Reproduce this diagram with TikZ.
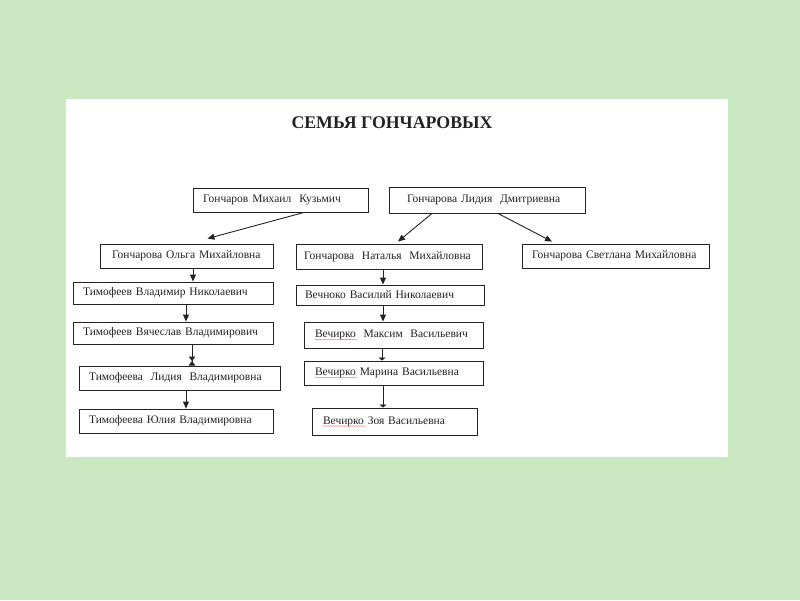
\documentclass[tikz,border=0pt]{standalone}
\usepackage{fontspec}
\setmainfont{Liberation Serif}
\usetikzlibrary{arrows.meta,decorations.pathmorphing}
\definecolor{bgc}{RGB}{202,232,194}
\definecolor{ink}{RGB}{35,35,35}
\tikzset{
  box/.style={draw=ink, line width=0.9pt, fill=white, text=ink, inner ysep=0pt,
    align=left, font=\fontsize{11.5}{12}\selectfont},
  arr/.style={draw=ink, line width=0.9pt, -{Triangle[length=7pt,width=6pt]}},
  flatarr/.style={draw=ink, line width=0.9pt, -{Triangle[length=3pt,width=7pt]}},
  hourarr/.style={draw=ink, line width=0.9pt, -{Triangle[length=4.5pt,width=6.5pt]Triangle[reversed,length=4.5pt,width=6.5pt]}},
  spell/.style={draw=red!55, line width=0.4pt, decorate,
    decoration={snake, amplitude=0.5pt, segment length=2.5pt}},
  titlestyle/.style={text=ink, font=\bfseries\fontsize{17.8}{20}\selectfont}
}
\begin{document}
\begin{tikzpicture}[x=1pt,y=-1pt]
\fill[bgc] (0,0) rectangle (800,600);
\fill[white] (66,99) rectangle (728,457);
\useasboundingbox (0,0) rectangle (800,600);

\node[titlestyle] (title) at (392,123) {СЕМЬЯ ГОНЧАРОВЫХ};

\node[box, minimum width=175pt, minimum height=24pt, inner xsep=10pt, text width=155pt] (m) at (280.5,200) {Гончаров\hspace{4pt}Михаил\hspace{8pt}Кузьмич};
\node[box, minimum width=196pt, minimum height=26pt, inner xsep=18pt, text width=160pt] (l) at (487,200) {Гончарова Лидия\ \ Дмитриевна};

\node[box, minimum width=173pt, minimum height=24pt, inner xsep=10pt, text width=153pt] (olga) at (186.5,256) {\hspace{2pt}Гончарова Ольга Михайловна};
\node[box, minimum width=186pt, minimum height=25pt, inner xsep=8pt, text width=170pt] (nat) at (389,256.5) {Гончарова\ \ Наталья\ \ Михайловна};
\node[box, minimum width=187pt, minimum height=24pt, inner xsep=8pt, text width=171pt] (svet) at (615.5,256) {\hspace{2pt}Гончарова Светлана Михайловна};

\node[box, minimum width=200pt, minimum height=22pt, inner xsep=10pt, text width=180pt] (tvn) at (173,293) {Тимофеев Владимир Николаевич};
\node[box, minimum width=200pt, minimum height=22pt, inner xsep=10pt, text width=180pt] (tvv) at (173,333) {Тимофеев Вячеслав Владимирович};
\node[box, minimum width=201pt, minimum height=24pt, inner xsep=10pt, text width=181pt] (tlv) at (179.5,378) {Тимофеева\ \ Лидия\ \ Владимировна};
\node[box, minimum width=194pt, minimum height=24pt, inner xsep=10pt, text width=174pt] (tyv) at (176,421) {Тимофеева Юлия Владимировна};

\node[box, minimum width=188pt, minimum height=20pt, inner xsep=9pt, text width=170pt] (vvn) at (390,295) {Вечноко Василий Николаевич};
\node[box, minimum width=179pt, minimum height=26pt, inner xsep=11pt, text width=157pt] (vmv) at (393.5,335) {Вечирко\ \ Максим\ \ Васильевич};
\node[box, minimum width=179pt, minimum height=24pt, inner xsep=11pt, text width=157pt] (vmar) at (393.5,373) {Вечирко Марина Васильевна};
\node[box, minimum width=165pt, minimum height=27pt, inner xsep=11pt, text width=143pt] (vz) at (394.5,421.5) {Вечирко Зоя Васильевна};

\draw[arr] ([xshift=23.5pt]m.south) -- ([xshift=21pt,yshift=5pt]olga.north);
\draw[arr] ([xshift=-55pt]l.south) -- ([xshift=9pt,yshift=2pt]nat.north);
\draw[arr] ([xshift=11pt]l.south) -- ([xshift=-63.5pt,yshift=2pt]svet.north);

\draw[arr] ([xshift=6.5pt]olga.south) -- ([xshift=20pt]tvn.north);
\draw[arr] ([xshift=13pt]tvn.south) -- ([xshift=13pt]tvv.north);
\draw[hourarr] ([xshift=19pt]tvv.south) -- ([xshift=12.5pt]tlv.north);
\draw[arr] ([xshift=6.5pt]tlv.south) -- ([xshift=10pt]tyv.north);

\draw[arr] ([xshift=-6pt]nat.south) -- ([xshift=-7pt]vvn.north);
\draw[arr] ([xshift=-7pt]vvn.south) -- ([xshift=-10.5pt]vmv.north);
\draw[flatarr] ([xshift=-11.5pt]vmv.south) -- ([xshift=-11.5pt]vmar.north);
\draw[flatarr] ([xshift=-10.5pt]vmar.south) -- ([xshift=-11.5pt]vz.north);

\draw[spell] ([xshift=11pt,yshift=-4.5pt]vmv.west) -- ++(43,0);
\draw[spell] ([xshift=11pt,yshift=-4.5pt]vmar.west) -- ++(43,0);
\draw[spell] ([xshift=11pt,yshift=-4.5pt]vz.west) -- ++(43,0);
\end{tikzpicture}
\end{document}
